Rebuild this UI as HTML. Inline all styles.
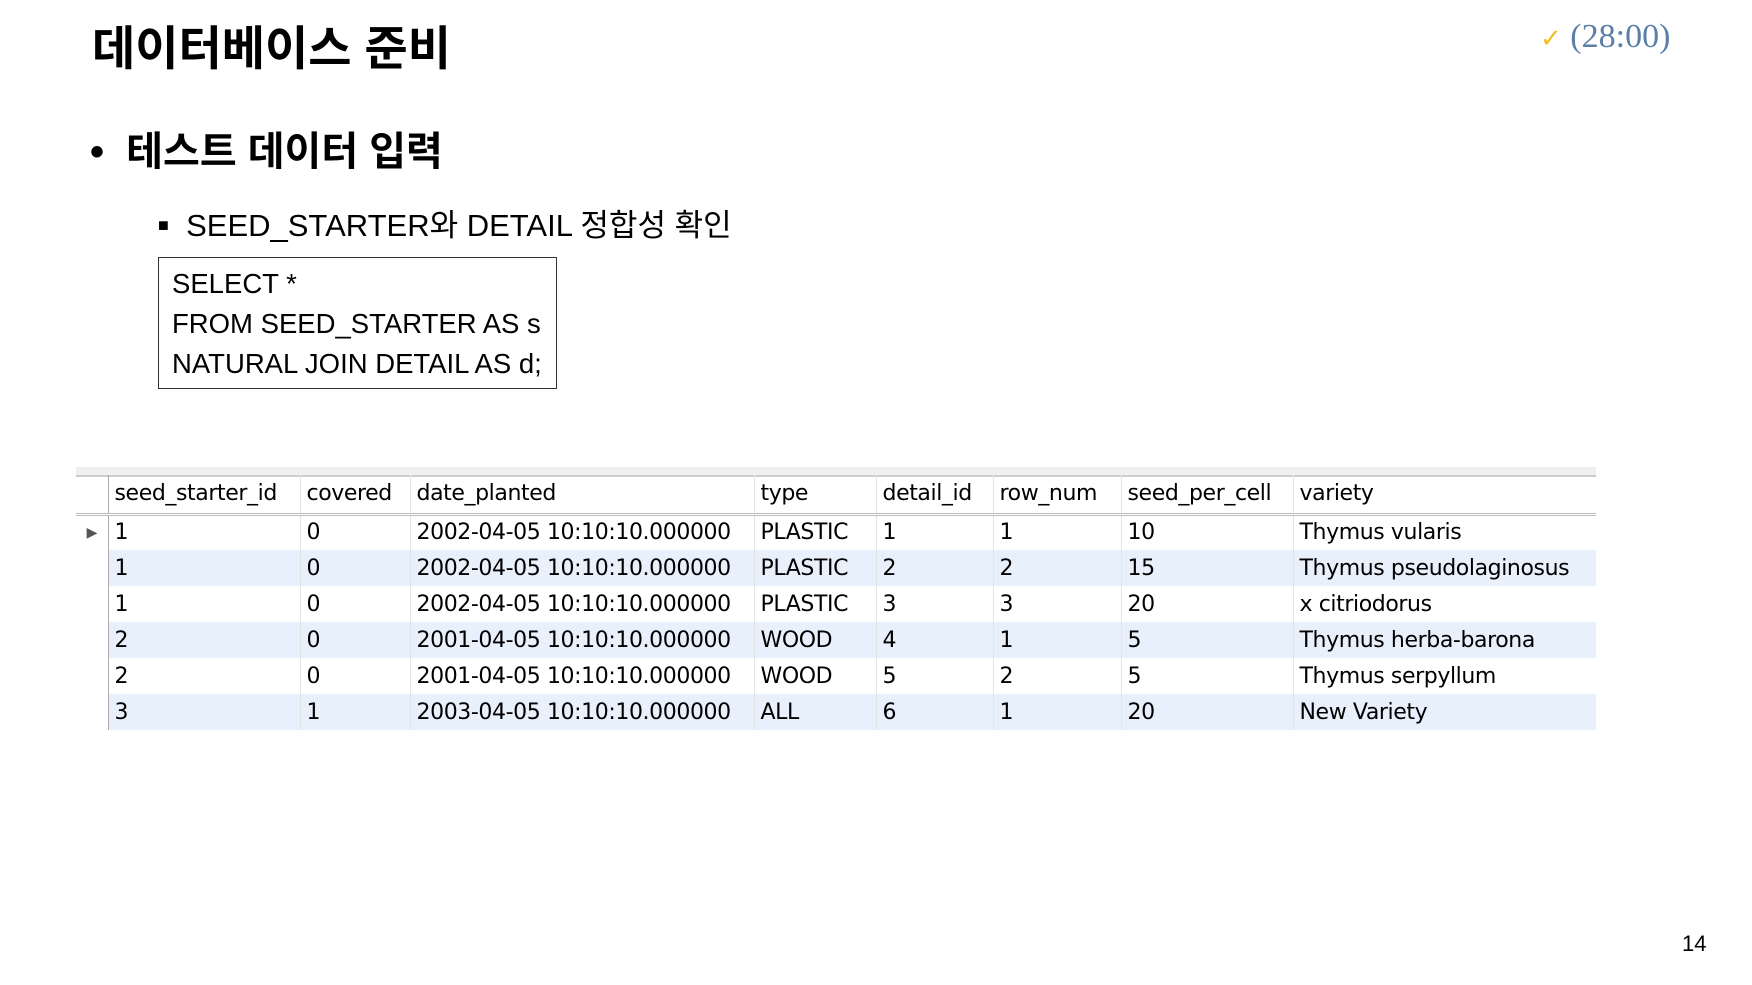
<!DOCTYPE html>
<html><head><meta charset="utf-8"><style>
body{margin:0;width:1752px;height:985px;background:#fff;position:relative;overflow:hidden;font-family:"Liberation Sans","Noto Sans CJK KR",sans-serif;color:#000}
.a{position:absolute;white-space:nowrap}
table{position:absolute;left:76px;top:475px;border-collapse:collapse;table-layout:fixed;width:1520px;font-family:"DejaVu Sans","Liberation Sans",sans-serif;font-size:22px;letter-spacing:-0.4px}
td{height:36px;padding:0 0 0 6px;border-left:1px solid #e4e4e4;vertical-align:middle;box-sizing:border-box;overflow:hidden;white-space:nowrap}
tr.h td{height:39px;border-bottom:3px double #bbb}
tr.alt td.c{background:#e8f0fb}
td.rh{border-left:none;border-right:1px solid #aaa;padding:0}
</style></head><body>
<div class="a" style="left:92px;top:10px;font-size:47px;font-weight:bold">데이터베이스 준비</div>
<div class="a" style="left:1540px;top:18px;font-size:34px;color:#5b7fa8;font-family:'Liberation Serif',serif"><span style="color:#f0c020;font-size:26px">✓</span> (28:00)</div>
<div class="a" style="left:90px;top:119px;font-size:40px;font-weight:bold">•&nbsp;&nbsp;테스트 데이터 입력</div>
<div class="a" style="left:158px;top:200px;font-size:31px"><span style="font-size:18px;vertical-align:5px">■</span>&nbsp;&nbsp;SEED_STARTER와 DETAIL 정합성 확인</div>
<div class="a" style="left:158px;top:257px;width:399px;height:132px;border:1.5px solid #333;font-size:27.5px;line-height:40px;padding:6px 0 0 13px;box-sizing:border-box">SELECT *<br>FROM SEED_STARTER AS s<br>NATURAL JOIN DETAIL AS d;</div>
<div class="a" style="left:76px;top:467px;width:1520px;height:8px;background:#f0f0f0;border-bottom:2px solid #ccc"></div>
<table>
<colgroup><col style="width:32px"><col style="width:192px"><col style="width:110px"><col style="width:344px"><col style="width:122px"><col style="width:117px"><col style="width:128px"><col style="width:172px"><col style="width:303px"></colgroup>
<tr class="h"><td class="rh"></td><td>seed_starter_id</td><td>covered</td><td>date_planted</td><td>type</td><td>detail_id</td><td>row_num</td><td>seed_per_cell</td><td>variety</td></tr>
<tr><td class="rh" style="font-size:14px;color:#555;text-align:center">▶</td><td class="c">1</td><td class="c">0</td><td class="c">2002-04-05 10:10:10.000000</td><td class="c">PLASTIC</td><td class="c">1</td><td class="c">1</td><td class="c">10</td><td class="c">Thymus vularis</td></tr>
<tr class="alt"><td class="rh"></td><td class="c">1</td><td class="c">0</td><td class="c">2002-04-05 10:10:10.000000</td><td class="c">PLASTIC</td><td class="c">2</td><td class="c">2</td><td class="c">15</td><td class="c">Thymus pseudolaginosus</td></tr>
<tr><td class="rh"></td><td class="c">1</td><td class="c">0</td><td class="c">2002-04-05 10:10:10.000000</td><td class="c">PLASTIC</td><td class="c">3</td><td class="c">3</td><td class="c">20</td><td class="c">x citriodorus</td></tr>
<tr class="alt"><td class="rh"></td><td class="c">2</td><td class="c">0</td><td class="c">2001-04-05 10:10:10.000000</td><td class="c">WOOD</td><td class="c">4</td><td class="c">1</td><td class="c">5</td><td class="c">Thymus herba-barona</td></tr>
<tr><td class="rh"></td><td class="c">2</td><td class="c">0</td><td class="c">2001-04-05 10:10:10.000000</td><td class="c">WOOD</td><td class="c">5</td><td class="c">2</td><td class="c">5</td><td class="c">Thymus serpyllum</td></tr>
<tr class="alt"><td class="rh"></td><td class="c">3</td><td class="c">1</td><td class="c">2003-04-05 10:10:10.000000</td><td class="c">ALL</td><td class="c">6</td><td class="c">1</td><td class="c">20</td><td class="c">New Variety</td></tr>
</table>
<div class="a" style="left:1682px;top:931px;font-size:22px">14</div>
</body></html>
